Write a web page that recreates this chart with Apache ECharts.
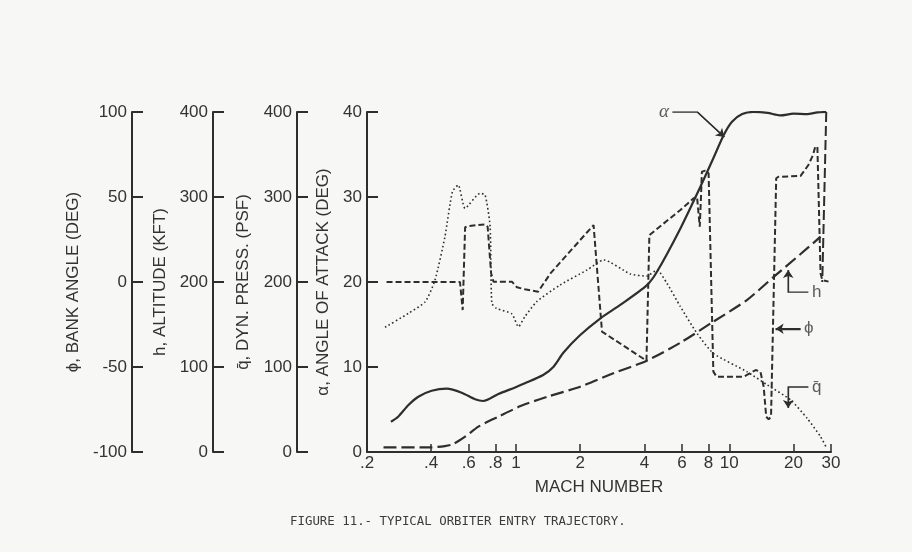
<!DOCTYPE html>
<html><head><meta charset="utf-8">
<script src="https://cdn.jsdelivr.net/npm/echarts@6/dist/echarts.min.js"></script>
<style>html,body{margin:0;padding:0;background:#f7f7f5}#c{width:912px;height:552px}</style>
</head><body><div id="c"></div>
<script>
// ---- data ----
const machTicks = [0.2, 0.4, 0.6, 0.8, 1, 2, 4, 6, 8, 10, 20, 30];

// alpha, angle of attack (deg)
const machAlpha = [0.259, 0.280, 0.313, 0.348, 0.402, 0.473, 0.556, 0.643, 0.702, 0.826, 0.99, 1.10, 1.34, 1.50, 1.67, 2.0, 2.48, 3.08, 4.1, 4.58, 5.9, 7.32, 8.42, 9.42, 10.3, 11.5, 13.0, 15.1, 17.4, 20.0, 23.2, 25.9, 28.5];
const alphaDeg  = [3.56, 4.15, 5.53, 6.5, 7.2, 7.45, 6.98, 6.2, 6.0, 6.82, 7.6, 8.08, 9.06, 10.04, 11.7, 13.76, 15.7, 17.3, 19.6, 21.2, 26.3, 31.2, 34.55, 37.3, 38.86, 39.76, 40.0, 39.9, 39.6, 39.8, 39.76, 39.95, 40.0];

// h, altitude (kft)
const machAlt = [0.239, 0.402, 0.464, 0.508, 0.577, 0.666, 0.826, 1.05, 1.40, 2.0, 2.86, 4.1, 5.9, 8.42, 12.1, 16.2, 21.6, 26.8];
const altitudeKft = [5.5, 5.5, 7, 9.4, 18, 29.8, 41.5, 54, 65, 76.8, 92.6, 107.4, 128.6, 153.3, 178.8, 206.3, 232.9, 253.3];

// q-bar, dynamic pressure (psf)
const machQ = [0.243, 0.313, 0.375, 0.417, 0.464, 0.503, 0.536, 0.577, 0.678, 0.716, 0.756, 0.77, 0.81, 0.956, 1.026, 1.10, 1.25, 1.61, 2.15, 2.58, 3.44, 4.1, 4.58, 5.1, 5.9, 7.06, 8.42, 12.1, 15.1, 19.4, 23.2, 26.8, 28.4];
const dynPressPsf = [146.7, 163.2, 176.8, 202.4, 253.3, 306.2, 314.1, 286.7, 304.3, 302.4, 265, 175, 169, 162.4, 147.4, 159.2, 176.8, 196.5, 214.1, 225.9, 209.4, 207, 214.1, 198.5, 171, 139.6, 116.1, 94.5, 78.8, 61.2, 39.6, 18, 6.2];

// phi, bank angle (deg)
const machPhi = [0.247, 0.546, 0.562, 0.577, 0.598, 0.716, 0.736, 0.764, 0.784, 0.956, 1.01, 1.10, 1.27, 1.45, 2.31, 2.53, 2.58, 4.09, 4.22, 5.9, 6.8, 7.06, 7.27, 7.37, 7.44, 7.72, 8.0, 8.42, 8.72, 11.7, 13.3, 14.0, 14.5, 14.9, 15.3, 15.7, 16.6, 17.0, 21.6, 23.5, 24.7, 25.3, 25.9, 26.8, 27.3, 29.2];
const bankDeg = [0, 0, -16.5, 32.2, 32.9, 33.9, 32.5, 5.1, 0.2, 0.2, -3.1, -4.3, -5.7, 5.1, 33.5, -29.2, -30.2, -46.3, 27.6, 42.4, 49.2, 50.2, 32.5, 50.2, 64.9, 65.5, 63.9, -52.7, -55.7, -55.7, -51.8, -52.7, -61.6, -79.2, -80.8, -79.2, 61.0, 61.9, 62.4, 68.8, 74.7, 79.6, 79.6, 5.1, 1.2, 0.2];

// final long-dashed drop of the bank-angle trace near Mach 28
const machPhiEnd = [28.5, 27.3];
const bankEnd = [100, 0];

// annotation leaders (Mach, alpha-axis units); the last segment carries the arrowhead
const leaderAlpha = [[5.41, 40], [7.08, 40], [9.48, 37.06]];
const leaderH = [[23.5, 18.8], [18.9, 18.8], [18.9, 21.4]];
const leaderPhi = [[21.6, 14.5], [16.5, 14.5]];
const leaderQ = [[23.5, 7.65], [18.9, 7.65], [18.9, 5.18]];
const annoLabels = [
  {text: 'α', at: [5.41, 40], pos: 'left'},
  {text: 'h', at: [23.5, 18.8], pos: 'right'},
  {text: 'ϕ', at: [21.6, 14.5], pos: 'right'},
  {text: 'q̄', at: [23.5, 7.65], pos: 'right'}
];

// ---- chart ----
const ink = '#2e2e2e';
const txt = '#333';
const font = 'Liberation Sans, Arial, Helvetica, sans-serif';
const zip = (a, b) => a.map((v, i) => [v, b[i]]);
const leaders = [leaderAlpha, leaderH, leaderPhi, leaderQ];

function yAxisCfg(o) {
  return Object.assign({
    type: 'value', position: 'left', nameLocation: 'middle', nameRotate: 90,
    nameTextStyle: {fontFamily: font, fontSize: 17, color: txt},
    axisLine: {show: true, onZero: false, lineStyle: {color: ink, width: 2}},
    axisTick: {show: true, inside: true, length: 11, lineStyle: {color: ink, width: 2}},
    axisLabel: {margin: 5, fontFamily: font, fontSize: 17, color: txt},
    splitLine: {show: false}
  }, o);
}

const chart = echarts.init(document.getElementById('c'));
chart.setOption({
  backgroundColor: '#f7f7f5',
  animation: false,
  title: {
    text: 'FIGURE 11.- TYPICAL ORBITER ENTRY TRAJECTORY.',
    left: 285, top: 511,
    textStyle: {fontFamily: 'DejaVu Sans Mono, monospace', fontSize: 12.4, fontWeight: 'normal', color: '#3c3c3c'}
  },
  grid: {left: 367, right: 81, top: 112, bottom: 100, containLabel: false, outerBoundsMode: 'none'},
  xAxis: {
    type: 'log', logBase: 10, min: 0.2, max: 30,
    name: 'MACH NUMBER', nameLocation: 'middle', nameGap: 27,
    nameTextStyle: {fontFamily: font, fontSize: 17, color: txt},
    axisLine: {show: true, onZero: false, lineStyle: {color: ink, width: 2}},
    axisTick: {show: true, inside: true, length: 8, customValues: machTicks, lineStyle: {color: ink, width: 1.5}},
    minorTick: {show: false},
    axisLabel: {
      margin: 3, fontFamily: font, fontSize: 17, color: txt, customValues: machTicks,
      formatter: v => { const r = Math.round(v * 10) / 10; return r < 1 ? String(r).replace(/^0/, '') : String(r); }
    },
    splitLine: {show: false}
  },
  yAxis: [
    yAxisCfg({min: 0, max: 40, interval: 10, offset: 0, name: 'α, ANGLE OF ATTACK (DEG)', nameGap: 31}),
    yAxisCfg({min: 0, max: 400, interval: 100, offset: 70, name: 'q̄, DYN. PRESS. (PSF)', nameGap: 45}),
    yAxisCfg({min: 0, max: 400, interval: 100, offset: 154, name: 'h, ALTITUDE (KFT)', nameGap: 42}),
    yAxisCfg({min: -100, max: 100, interval: 50, offset: 235, name: 'ϕ, BANK ANGLE (DEG)', nameGap: 47})
  ],
  series: [
    {name: 'alpha', type: 'line', yAxisIndex: 0, data: zip(machAlpha, alphaDeg), smooth: 0.25, showSymbol: false,
     lineStyle: {color: ink, width: 2.2}},
    {name: 'h', type: 'line', yAxisIndex: 2, data: zip(machAlt, altitudeKft), smooth: 0.25, showSymbol: false,
     lineStyle: {color: ink, width: 2.2, type: [13, 5]}},
    {name: 'qbar', type: 'line', yAxisIndex: 1, data: zip(machQ, dynPressPsf), smooth: 0.2, showSymbol: false,
     lineStyle: {color: ink, width: 1.6, type: [1.6, 2.6]}},
    {name: 'phi', type: 'line', yAxisIndex: 3, data: zip(machPhi, bankDeg), showSymbol: false,
     lineStyle: {color: ink, width: 2, type: [6, 3]}},
    {name: 'phi end', type: 'line', yAxisIndex: 3, data: zip(machPhiEnd, bankEnd), showSymbol: false, clip: false,
     lineStyle: {color: ink, width: 2, type: [10, 4]}},
    {name: 'leader bodies', type: 'lines', coordinateSystem: 'cartesian2d', xAxisIndex: 0, yAxisIndex: 0,
     polyline: true, silent: true,
     lineStyle: {color: ink, width: 1.3, opacity: 1, curveness: 0},
     data: leaders.map(c => ({coords: c}))},
    {name: 'leader arrows', type: 'lines', coordinateSystem: 'cartesian2d', xAxisIndex: 0, yAxisIndex: 0,
     polyline: false, symbol: ['none', 'arrow'], symbolSize: 8, silent: true,
     lineStyle: {color: ink, width: 1.3, opacity: 1, curveness: 0},
     data: leaders.map(c => ({coords: c.slice(-2)}))},
    {name: 'labels', type: 'scatter', yAxisIndex: 0, symbolSize: 1, silent: true,
     itemStyle: {color: 'rgba(0,0,0,0)'},
     data: annoLabels.map(a => ({
       value: a.at, name: a.text,
       label: {show: true, position: a.pos, distance: 3, formatter: '{b}', color: txt,
         fontFamily: a.text === 'α' ? 'Liberation Serif, serif' : font,
         fontStyle: a.text === 'α' ? 'italic' : 'normal', fontSize: a.text === 'α' ? 19 : 17}
     }))}
  ]
});
</script></body></html>
